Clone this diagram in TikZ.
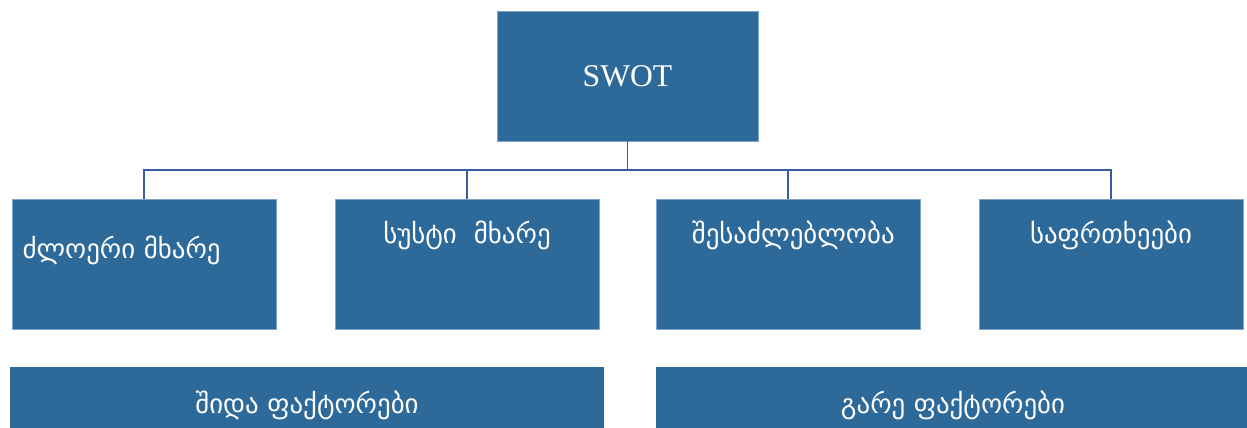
\documentclass[tikz,border=0pt]{standalone}
\usepackage{fontspec}
\setmainfont{Liberation Serif}
\newfontfamily\geofont{DejaVu Sans}
\definecolor{boxblue}{RGB}{45,106,154}
\definecolor{boxedge}{RGB}{125,165,205}
\definecolor{linkblue}{RGB}{58,92,164}

\begin{document}
\begin{tikzpicture}[x=0.02cm,y=-0.02cm,
        every node/.append style={inner sep=0pt},
        box/.style={fill=boxblue,draw=boxedge,line width=0.4pt,minimum width=5.28cm,minimum height=2.6cm},
        bar/.style={fill=boxblue,minimum width=11.88cm,minimum height=1.52cm},
        geotxt/.style={text=white,font=\geofont\fontsize{15.3}{18}\selectfont},
        link/.style={draw=linkblue,line width=1.1pt}
    ]
        \clip (0,0) rectangle (1247,428);

        \node[box,minimum width=5.22cm,text=white,font=\fontsize{18}{22}\selectfont] (swot) at (627.5,76) {SWOT};

        \node[box,label={[geotxt,anchor=north west,xshift=6,yshift=-21]north west:ძლოერი მხარე}] (str) at (144,264.5) {};
        \node[box,label={[geotxt,anchor=north,yshift=-12]north:სუსტი\ \ მხარე}] (weak) at (467,264.5) {};
        \node[box,label={[geotxt,anchor=north,xshift=3,yshift=-12]north:შესაძლებლობა}] (opp) at (788,264.5) {};
        \node[box,label={[geotxt,anchor=north,yshift=-12]north:საფრთხეები}] (thr) at (1111,264.5) {};

        \node[bar,geotxt] (inner) at (307,405) {შიდა ფაქტორები};
        \node[bar,geotxt] (outer) at (953,405) {გარე ფაქტორები};

        \draw[link] (swot.south) -- ++(0,29) coordinate (bus);
        \draw[link] (bus) -| (str.north) (bus) -| (weak.north);
        \draw[link] (bus) -| (opp.north) (bus) -| (thr.north);
    \end{tikzpicture}
\end{document}
